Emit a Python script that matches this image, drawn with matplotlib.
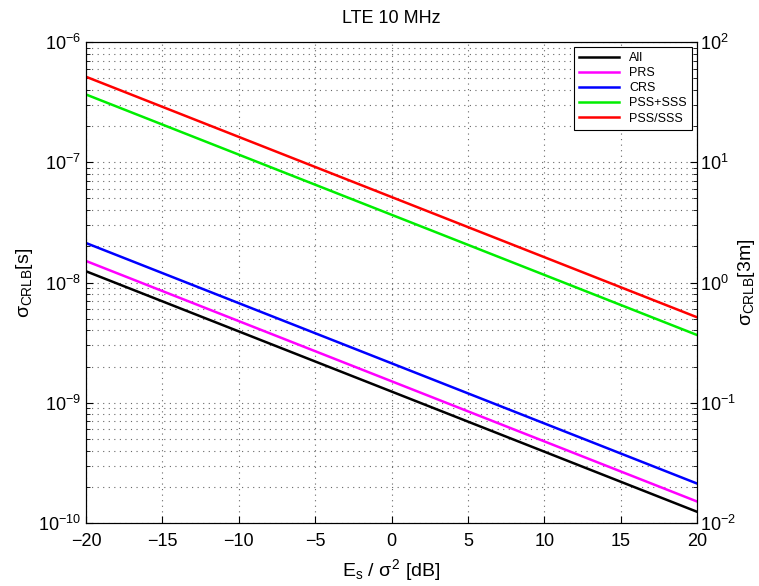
import matplotlib.pyplot as plt

plt.rcParams["font.family"] = ["Liberation Sans", "DejaVu Sans"]
plt.rcParams["mathtext.fontset"] = "custom"
plt.rcParams["mathtext.rm"] = "Liberation Sans"
plt.rcParams["mathtext.it"] = "Liberation Sans"

snr_db = [-20, 0, 20]

series_names = ["All", "PRS", "CRS", "PSS+SSS", "PSS/SSS"]
series_colors = ["black", "magenta", "blue", "#00ee00", "red"]

crlb_all = [1.24e-8, 1.24e-9, 1.24e-10]
crlb_prs = [1.51e-8, 1.51e-9, 1.51e-10]
crlb_crs = [2.13e-8, 2.13e-9, 2.13e-10]
crlb_pss_plus_sss = [3.66e-7, 3.66e-8, 3.66e-9]
crlb_pss_or_sss = [5.14e-7, 5.14e-8, 5.14e-9]

all_series = [crlb_all, crlb_prs, crlb_crs, crlb_pss_plus_sss, crlb_pss_or_sss]

x_ticks = [-20, -15, -10, -5, 0, 5, 10, 15, 20]
x_tick_labels = ["\u221220", "\u221215", "\u221210", "\u22125", "0", "5", "10", "15", "20"]

fig = plt.figure(figsize=(7.59, 5.86), dpi=100)
ax = fig.add_axes([86 / 759, 63 / 586, 611 / 759, 481 / 586])

for name, color, values in zip(series_names, series_colors, all_series):
    ax.plot(snr_db, values, color=color, linewidth=1.8, label=name)

ax.set_yscale("log")
ax.set_xlim(-20, 20)
ax.set_ylim(1e-10, 1e-6)
ax.set_xticks(x_ticks)
ax.set_xticklabels(x_tick_labels)

grid_style = dict(linestyle=(0, (1, 4)), color="#666666", linewidth=0.8)
ax.grid(True, which="major", **grid_style)
ax.grid(True, which="minor", axis="y", **grid_style)

ax.tick_params(which="both", direction="in", labelsize=13, top=False)
ax.tick_params(which="major", length=5)
ax.tick_params(which="minor", length=3)
ax.tick_params(axis="x", pad=7)

ax.set_xlabel(r"E$_\mathrm{s}$ / $\sigma^2$ [dB]", fontsize=14, labelpad=5)
ax.set_ylabel(r"$\sigma_\mathrm{CRLB}$[s]", fontsize=14, labelpad=2)
ax.set_title("LTE 10 MHz", fontsize=13, pad=14)

right_ax = ax.twinx()
right_ax.set_yscale("log")
right_ax.set_ylim(1e-2, 1e2)
right_ax.tick_params(which="both", direction="in", labelsize=13, pad=2)
right_ax.tick_params(which="major", length=5)
right_ax.tick_params(which="minor", length=3)
right_ax.set_ylabel(r"$\sigma_\mathrm{CRLB}$[3m]", fontsize=14, labelpad=0)

legend = ax.legend(loc="upper right", fontsize=9, fancybox=False,
                   edgecolor="black", framealpha=1, borderaxespad=0.4,
                   handlelength=3.2, labelspacing=0.25)
legend.get_frame().set_linewidth(0.8)

plt.savefig("out.png", dpi=100)
plt.close()
